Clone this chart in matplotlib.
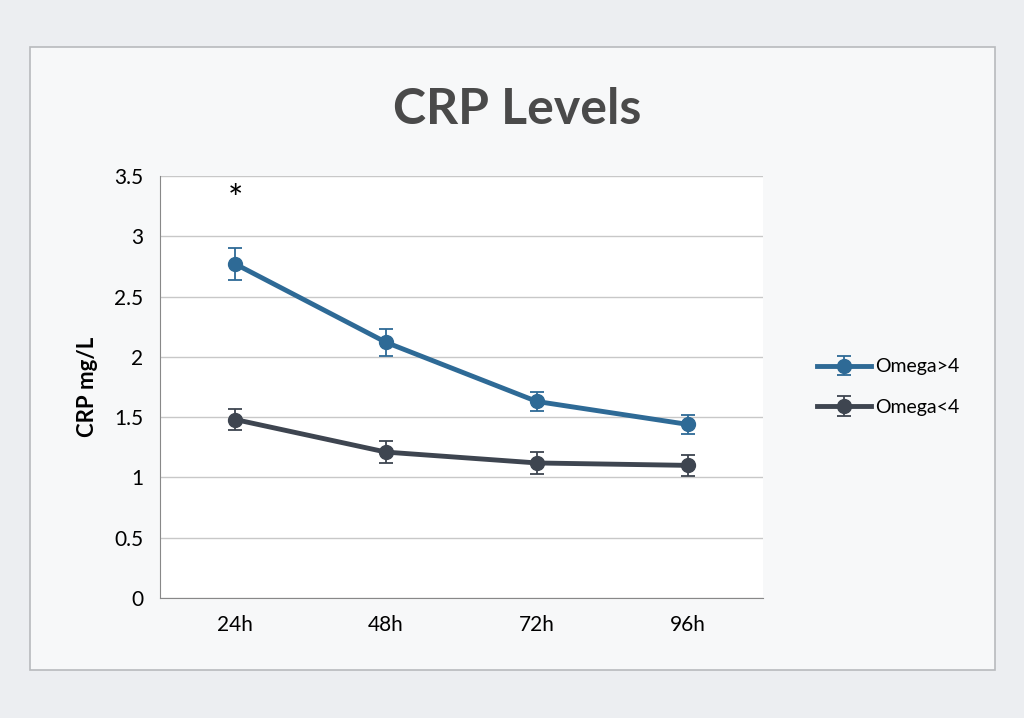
import matplotlib.pyplot as plt
from matplotlib.patches import Rectangle

times = ['24h', '48h', '72h', '96h']
omega_hi = [2.77, 2.12, 1.63, 1.44]
omega_hi_err = [0.13, 0.11, 0.08, 0.08]
omega_lo = [1.48, 1.21, 1.12, 1.10]
omega_lo_err = [0.09, 0.09, 0.09, 0.09]

plt.rcParams['font.family'] = ['Lato', 'DejaVu Sans']

fig = plt.figure(figsize=(10.24, 7.18), dpi=100)
fig.patch.set_facecolor('#eceef1')
# inner panel with border
fig.patches.append(Rectangle((30/1024, 1-670/718), 965/1024, 623/718,
                             transform=fig.transFigure, facecolor='#f7f8f9',
                             edgecolor='#b8babd', linewidth=1.2, zorder=-5))

ax = fig.add_axes([160/1024, 1-598/718, 603/1024, 422/718])
ax.set_zorder(2)
ax.set_facecolor('white')
x = range(len(times))
ax.errorbar(x, omega_hi, yerr=omega_hi_err, color='#2e6a96', lw=3.5,
            marker='o', ms=10, capsize=5, elinewidth=1.3, capthick=1.3,
            label='Omega>4', zorder=3)
ax.errorbar(x, omega_lo, yerr=omega_lo_err, color='#3e4550', lw=3.5,
            marker='o', ms=10, capsize=5, elinewidth=1.3, capthick=1.3,
            label='Omega<4', zorder=3)
ax.text(0, 3.3, '*', ha='center', va='center', fontsize=26)

ax.set_xlim(-0.5, 3.5)
ax.set_ylim(0, 3.5)
ax.set_yticks([0, 0.5, 1, 1.5, 2, 2.5, 3, 3.5])
ax.set_yticklabels(['0', '0.5', '1', '1.5', '2', '2.5', '3', '3.5'])
ax.set_xticks(list(x))
ax.set_xticklabels(times)
ax.tick_params(labelsize=15, length=0, pad=12)
ax.grid(axis='y', color='#c8c8c8', lw=1)
ax.set_axisbelow(True)
for s in ['top', 'right']:
    ax.spines[s].set_visible(False)
ax.spines['left'].set_color('#888888')
ax.spines['bottom'].set_color('#888888')
ax.set_ylabel('CRP mg/L', fontsize=16, fontweight='bold', labelpad=12)

fig.text(0.505, 1-110/718, 'CRP Levels', ha='center', va='center',
         fontsize=36, fontweight='bold', color='#4a4a4a')
ax.legend(loc='center left', bbox_to_anchor=(1.06, 0.5), frameon=False,
          fontsize=14, handlelength=2.8, labelspacing=1.2, handletextpad=0.2)

fig.savefig('out.png', dpi=100, facecolor=fig.get_facecolor())
